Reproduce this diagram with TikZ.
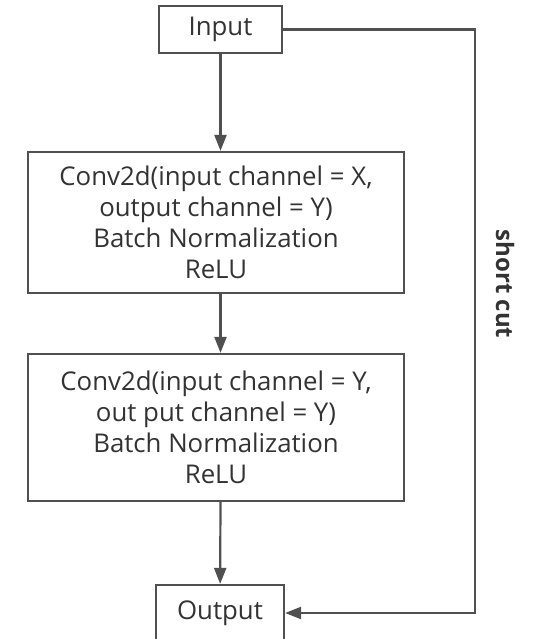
\documentclass[tikz,border=0pt]{standalone}
\usepackage{fontspec}
\setmainfont{Open Sans}
\definecolor{edge}{HTML}{505050}
\definecolor{ink}{HTML}{333333}
\usetikzlibrary{arrows.meta, calc}
\tikzset{
  box/.style={
    draw=edge, line width=2.2pt, fill=white,
    font=\fontsize{25.8}{31}\selectfont, text=ink, align=center,
    inner sep=0pt
  },
  arr/.style={-{Triangle[length=16pt,width=12pt]}, line width=2.2pt, color=edge},
  lbl/.style={font=\fontsize{24}{28}\selectfont\bfseries, text=ink},
}

\begin{document}
\begin{tikzpicture}[x=1pt, y=-1pt]
  \useasboundingbox (0,0) rectangle (534,639);

  % Input
  \node[box, minimum width=123pt, minimum height=47pt] (in) at (220.5,29.5) {Input};

  % first conv block
  \node[box, minimum width=376pt, minimum height=141pt] (c1) at (216,222.5)
    {Conv2d(input channel = X,\\ output channel = Y)\\ Batch Normalization\\ ReLU};

  % second conv block
  \node[box, minimum width=376pt, minimum height=147pt] (c2) at (216,427.5)
    {Conv2d(input channel = Y,\\ out put channel = Y)\\ Batch Normalization\\ ReLU};

  % Output
  \node[box, minimum width=128pt, minimum height=56pt] (out) at (220,613) {Output};

  % skip path
  \coordinate (sc) at (475,0);
  \node[lbl, rotate=-90] (sclbl) at (505,284) {short cut};

  \draw[arr] (in) -- (in |- c1.north);
  \draw[arr] (in |- c1.south) -- (in |- c2.north);
  \draw[arr] (in |- c2.south) -- (out);
  \draw[arr] (in.east) -- (in.east -| sc) -- (out.east -| sc) -- (out.east);
\end{tikzpicture}
\end{document}
